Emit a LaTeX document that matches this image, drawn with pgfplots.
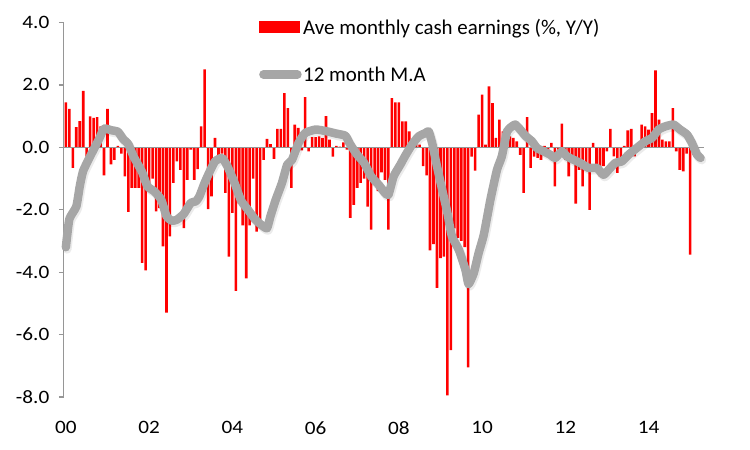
\documentclass[border=0pt]{standalone}
\usepackage{pgfplots}
\usepackage{pgfplotstable}
\pgfplotsset{compat=1.18}
\usepackage{fontspec}
\setmainfont{Carlito}
\newfontfamily\tickfont{Carlito}[FakeStretch=1.12]
\definecolor{magray}{RGB}{166,166,166}
\definecolor{axgray}{RGB}{150,150,150}
\pgfplotstableread[row sep=\\]{
m v\\
0 -3.2\\ 1 -2.3\\ 3 -1.9\\ 4 -1.25\\ 5 -0.75\\ 7.5 -0.18\\ 9.5 0.25\\ 11 0.6\\ 13 0.55\\ 15 0.5\\
16.5 0.27\\ 18 0.1\\ 19.5 -0.29\\ 22 -0.8\\ 23.5 -1.25\\ 25.5 -1.41\\ 27.5 -1.68\\ 29 -2.2\\ 30.5 -2.35\\ 32 -2.32\\
34 -2.13\\ 36 -1.78\\ 37.5 -1.73\\ 38.5 -1.57\\ 40 -1.14\\ 41.5 -0.77\\ 43 -0.45\\ 45 -0.34\\ 46.5 -0.59\\ 48.5 -1.1\\
50.5 -1.7\\ 52.5 -2.0\\ 54.5 -2.3\\ 56.5 -2.5\\ 58 -2.59\\ 59 -2.2\\ 60.5 -1.68\\ 62.3 -1.14\\ 63.8 -0.56\\ 65.2 -0.4\\
67.1 0.14\\ 69 0.46\\ 72 0.57\\ 75 0.52\\ 78 0.44\\ 80.6 0.37\\ 82 0.09\\ 84 -0.24\\ 86 -0.5\\ 88 -0.93\\
90.2 -1.2\\ 92 -1.46\\ 93 -1.52\\ 94.5 -0.93\\ 96.4 -0.56\\ 98 -0.24\\ 99.8 0.09\\ 101.7 0.35\\ 103.7 0.46\\ 104.6 0.51\\
105.6 0.14\\ 107 -0.61\\ 108.5 -1.36\\ 110 -2.1\\ 111.3 -2.85\\ 113.3 -3.28\\ 115.2 -3.92\\ 116.1 -4.38\\ 117.6 -4.03\\ 119 -3.39\\
120.5 -2.8\\ 122.4 -1.68\\ 124.3 -0.72\\ 125.7 -0.29\\ 127.2 0.51\\ 128.6 0.67\\ 129.6 0.73\\ 131 0.57\\ 132.5 0.37\\ 134.4 0.19\\
135.8 -0.02\\ 137.8 -0.13\\ 139.7 -0.24\\ 141.1 -0.34\\ 143 -0.13\\ 144.5 -0.29\\ 146.4 -0.4\\ 148.3 -0.5\\ 150.7 -0.66\\ 153.1 -0.66\\
155 -0.88\\ 156.5 -0.72\\ 158.4 -0.5\\ 160.3 -0.45\\ 162.2 -0.24\\ 164.6 -0.02\\ 167 0.19\\ 169 0.3\\ 170.9 0.57\\ 172.8 0.67\\
175.2 0.73\\ 177.1 0.57\\ 179.1 0.41\\ 180.5 0.14\\ 182 -0.24\\ 183 -0.34\\
}\matable
\begin{document}
\begin{tikzpicture}
\useasboundingbox (0bp,0bp) rectangle (750bp,450bp);
\begin{axis}[
  at={(63.8bp,53bp)}, anchor=south west,
  scale only axis, width=643.7bp, height=374.5bp,
  xmin=-0.6, xmax=185, ymin=-8, ymax=4,
  axis lines*=left,
  x axis line style={draw=none},
  y axis line style={draw=axgray, line width=1.2bp},
  xtick={0,24,48,72,96,120,144,168},
  xticklabels={00,02,04,06,08,10,12,14},
  xtick style={draw=none},
  ytick={-8,-6,-4,-2,0,2,4},
  yticklabels={-8.0,-6.0,-4.0,-2.0,0.0,2.0,4.0},
  ytick style={draw=axgray, line width=1.2bp},
  tick align=outside, major tick length=5bp,
  ticklabel style={font=\tickfont\fontsize{19}{22}\selectfont},
  xticklabel style={yshift=-16bp},
  yticklabel style={xshift=-6bp},
  clip=false,
  legend style={at={(0.2986,1.02)}, anchor=north west, draw=none, fill=none,
    font=\fontsize{21}{24}\selectfont, row sep=28bp,
    nodes={inner sep=1.5bp}},
  legend cell align=left,
]
\addplot[ybar, bar width=2.6bp, bar shift=0pt, fill=red, draw=none,
  legend image code/.code={\fill[red] (0bp,-6bp) rectangle (41bp,6bp);}]
table[row sep=\\] {
m v\\
0 1.44\\ 1 1.23\\ 2 -0.66\\ 3 0.65\\ 4 0.84\\ 5 1.81\\ 6 -0.3\\ 7 0.99\\ 8 0.94\\ 9 0.97\\
10 0.67\\ 11 -0.9\\ 12 1.23\\ 13 -0.55\\ 14 -0.4\\ 15 0.05\\ 16 -0.2\\ 17 -0.93\\ 18 -2.07\\ 19 -1.3\\
20 -1.3\\ 21 -1.3\\ 22 -3.7\\ 23 -3.94\\ 24 -1.25\\ 25 -1.0\\ 26 -2.05\\ 27 -1.95\\ 28 -3.17\\ 29 -5.3\\
30 -2.85\\ 31 -1.14\\ 32 -0.45\\ 33 -0.72\\ 34 -2.59\\ 35 -1.04\\ 36 -0.07\\ 37 -1.04\\ 38 -0.7\\ 39 0.67\\
40 2.5\\ 41 -1.98\\ 42 -1.57\\ 43 0.3\\ 44 -0.3\\ 45 -0.2\\ 46 -1.46\\ 47 -3.5\\ 48 -2.1\\ 49 -4.6\\
50 -1.8\\ 51 -2.5\\ 52 -4.2\\ 53 -2.5\\ 54 -1.0\\ 55 -2.7\\ 56 -2.6\\ 57 -0.4\\ 58 0.27\\ 59 0.1\\
60 -0.37\\ 61 0.59\\ 62 0.59\\ 63 1.74\\ 64 1.26\\ 65 -1.3\\ 66 0.73\\ 67 0.62\\ 68 -0.1\\ 69 1.61\\
70 -0.13\\ 71 0.33\\ 72 0.33\\ 73 0.35\\ 74 0.3\\ 75 1.0\\ 76 0.25\\ 77 -0.3\\ 78 0.05\\ 79 0.02\\
80 0.16\\ 81 -0.07\\ 82 -2.26\\ 83 -1.84\\ 84 -1.3\\ 85 -1.14\\ 86 -1.0\\ 87 -1.9\\ 88 -2.64\\ 89 -1.14\\
90 -1.4\\ 91 -0.8\\ 92 -1.04\\ 93 -2.64\\ 94 1.58\\ 95 1.44\\ 96 1.44\\ 97 0.83\\ 98 0.83\\ 99 0.51\\
100 0.2\\ 101 0.14\\ 102 0.09\\ 103 -0.6\\ 104 -0.9\\ 105 -3.3\\ 106 -3.1\\ 107 -4.5\\ 108 -3.55\\ 109 -3.5\\
110 -7.95\\ 111 -6.5\\ 112 -2.6\\ 113 -2.9\\ 114 -3.0\\ 115 -3.2\\ 116 -7.05\\ 117 -0.3\\ 118 -0.75\\ 119 1.05\\
120 1.69\\ 121 0.09\\ 122 1.95\\ 123 1.42\\ 124 0.3\\ 125 0.89\\ 126 0.51\\ 127 0.05\\ 128 0.35\\ 129 0.3\\
130 0.19\\ 131 -0.24\\ 132 -1.46\\ 133 0.97\\ 134 -0.66\\ 135 -0.3\\ 136 -0.34\\ 137 -0.4\\ 138 0.05\\ 139 -0.2\\
140 0.14\\ 141 -1.25\\ 142 -0.29\\ 143 0.76\\ 144 -0.4\\ 145 -0.93\\ 146 -0.5\\ 147 -1.8\\ 148 -0.72\\ 149 -1.25\\
150 -0.6\\ 151 -2.0\\ 152 0.14\\ 153 -0.6\\ 154 -0.93\\ 155 -0.6\\ 156 -0.13\\ 157 0.59\\ 158 -0.29\\ 159 -0.82\\
160 -0.4\\ 161 0.05\\ 162 0.54\\ 163 0.59\\ 164 -0.29\\ 165 0.05\\ 166 0.73\\ 167 0.67\\ 168 0.57\\ 169 1.1\\
170 2.47\\ 171 0.89\\ 172 0.25\\ 173 0.19\\ 174 0.19\\ 175 1.26\\ 176 -0.13\\ 177 -0.72\\ 178 -0.77\\ 179 -0.2\\
180 -3.44\\ 181 -0.24\\ 182 -0.15\\
};
\addlegendentry{Ave monthly cash earnings (\%, Y/Y)}
\addplot[forget plot, draw=axgray, line width=1.4bp] coordinates {(-0.6,0) (184,0)};
\addplot[forget plot, black, opacity=0.08, line width=9bp, line join=round, line cap=round,
  smooth, tension=0.3, xshift=1.2bp, yshift=-2bp] table {\matable};
\addplot[magray, line width=8.5bp, line join=round, line cap=round, smooth, tension=0.3,
  legend image code/.code={\draw[magray, line width=8.5bp, line cap=round] (4bp,0bp) -- (38bp,0bp);}]
table {\matable};
\addlegendentry{12 month M.A}
\end{axis}
\end{tikzpicture}
\end{document}
